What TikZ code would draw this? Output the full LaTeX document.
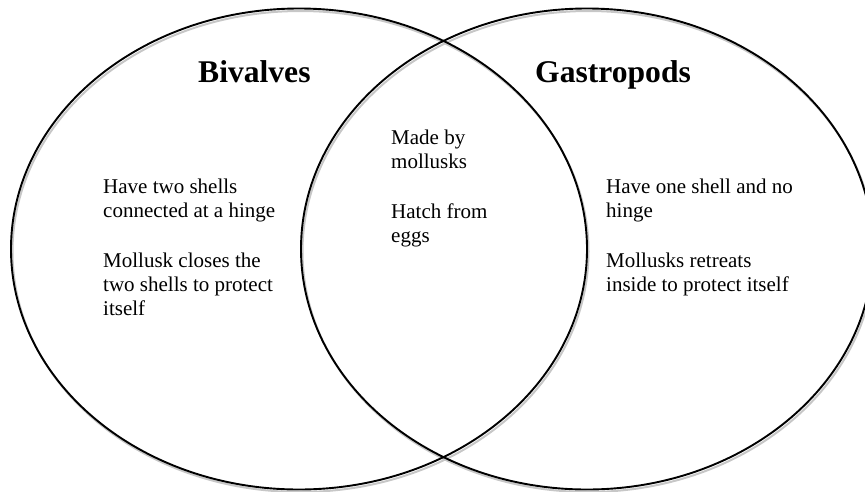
\documentclass[tikz,border=0pt]{standalone}
\usepackage{fontspec}
\setmainfont{Liberation Serif}
\begin{document}
\begin{tikzpicture}[x=1pt,y=-1pt,
  body/.style={anchor=base west,inner sep=0pt,font=\fontsize{21}{24}\selectfont},
  head/.style={anchor=base west,inner sep=0pt,font=\fontsize{31.6}{36}\selectfont\bfseries},
  ring/.style={line width=1.9pt,draw=black},
  shade/.style={line width=2pt,draw=black!22}]
\useasboundingbox (0,0) rectangle (865,491);
\clip (0,0) rectangle (865,491);
% shadows
\draw[shade] (300.5,251.5) ellipse [x radius=288, y radius=240.5];
\draw[shade] (588.5,251.5) ellipse [x radius=286, y radius=240.5];
% circles
\draw[ring] (299,249) ellipse [x radius=288, y radius=240.5];
\draw[ring] (587,249) ellipse [x radius=286, y radius=240.5];
% headings
\node[head] (hb) at (198,82) {Bivalves};
\node[head] (hg) at (535,82) {Gastropods};
% left
\node[body] (l1) at (103,193) {Have two shells};
\node[body] (l2) at (103,217) {connected at a hinge};
\node[body] (l3) at (103,267) {Mollusk closes the};
\node[body] (l4) at (103,291) {two shells to protect};
\node[body] (l5) at (103,315) {itself};
% middle
\node[body] (m1) at (391,144) {Made by};
\node[body] (m2) at (391,168) {mollusks};
\node[body] (m3) at (391,218) {Hatch from};
\node[body] (m4) at (391,242) {eggs};
% right
\node[body] (r1) at (606,193) {Have one shell and no};
\node[body] (r2) at (606,217) {hinge};
\node[body] (r3) at (606,267) {Mollusks retreats};
\node[body] (r4) at (606,291) {inside to protect itself};
\end{tikzpicture}
\end{document}
